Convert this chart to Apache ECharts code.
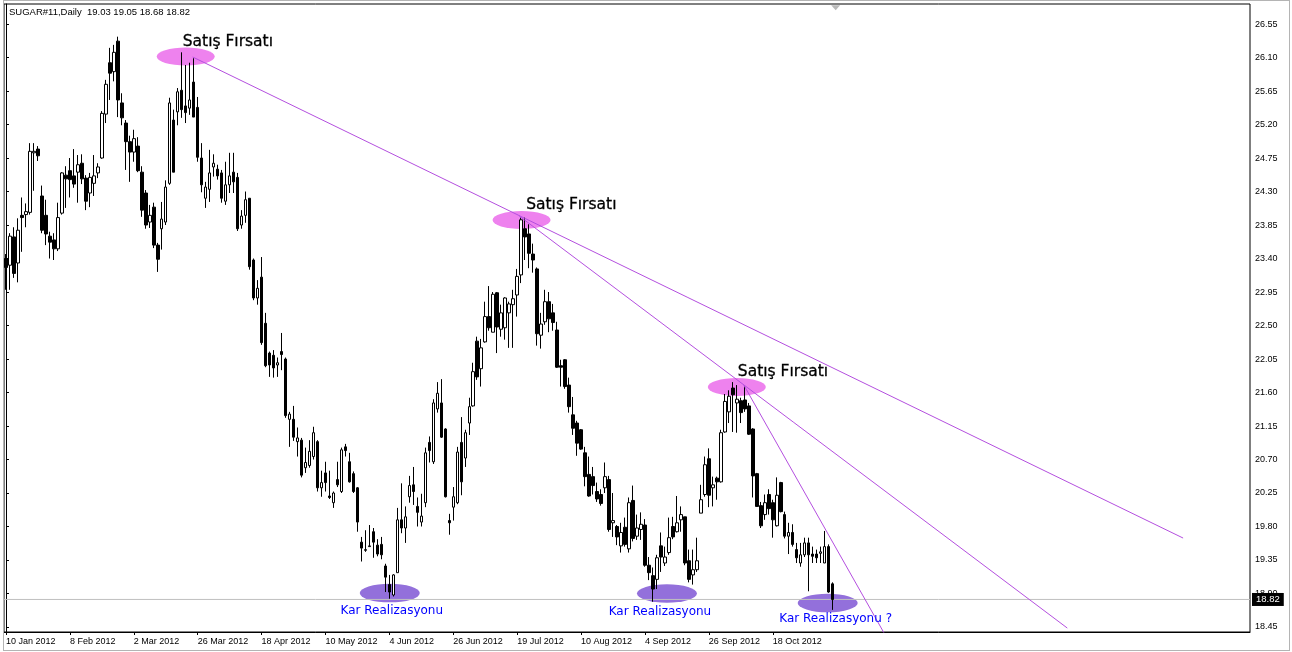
<!DOCTYPE html>
<html>
<head>
<meta charset="utf-8">
<script src="https://cdn.jsdelivr.net/npm/echarts@6/dist/echarts.min.js"></script>
<style>
html,body{margin:0;padding:0;background:#fff;}
#c{position:absolute;left:0;top:0;width:1292px;height:652px;}
#frame{position:absolute;left:3px;top:0;width:1285px;height:649px;border:1px solid #b4b4b4;pointer-events:none;}
</style>
</head>
<body>
<div id="c"></div>
<div id="frame"></div>
<script>
// ---------------- DATA ----------------
const symbolName = 'SUGAR#11,Daily';
const opens = [23.40,23.31,23.69,23.34,23.98,23.99,24.02,24.82,24.87,24.24,23.98,23.70,23.65,23.53,24.01,24.52,24.58,24.51,24.56,24.68,
24.48,24.28,24.41,24.55,24.75,25.34,26.03,25.91,26.32,25.49,25.22,24.97,24.83,24.91,24.56,24.28,23.89,24.09,23.58,23.80,
23.89,24.41,25.26,25.37,25.66,25.45,25.42,25.77,25.43,24.75,24.21,24.33,24.63,24.60,24.55,24.17,24.39,24.56,24.49,23.85,
23.98,24.21,23.38,22.87,23.15,22.53,22.13,22.10,21.97,22.15,22.05,21.24,21.24,20.94,20.96,20.59,20.62,20.74,20.94,20.32,
20.52,20.21,20.12,20.43,20.27,20.87,20.67,20.51,20.32,19.59,19.48,19.53,19.73,19.55,19.56,19.27,19.02,18.88,19.18,19.89,
19.78,20.20,20.36,20.07,19.86,20.12,20.93,20.67,21.38,21.46,21.11,19.88,20.06,20.12,20.93,20.72,21.19,21.42,22.29,21.92,
22.28,22.62,22.41,22.94,22.45,22.47,22.67,22.78,22.91,23.18,23.80,23.73,23.46,23.26,22.37,22.55,22.82,22.67,22.44,21.96,
22.04,21.70,21.30,21.19,21.10,20.79,20.50,20.47,20.27,20.23,20.32,20.43,19.85,19.80,19.54,19.79,19.50,20.15,19.67,19.76,
19.82,19.28,19.14,19.09,19.54,19.31,19.45,19.80,19.73,19.89,19.93,19.34,19.15,19.22,19.98,20.23,20.71,20.32,20.45,20.40,
21.07,21.34,21.66,21.46,21.49,21.50,21.42,21.11,20.51,20.08,19.96,20.23,20.12,19.81,20.39,19.96,19.67,19.72,19.49,19.31,
19.42,19.58,19.43,19.43,19.44,19.31,19.53,19.03];
const highs = [23.46,23.74,23.82,23.94,24.22,24.14,24.95,24.95,24.91,24.38,24.19,23.76,23.74,24.15,24.56,24.64,24.75,24.87,24.79,24.80,
24.52,24.55,24.79,24.68,25.38,25.80,26.23,26.27,26.38,25.62,25.26,25.05,25.13,25.03,24.64,24.32,24.12,24.15,23.61,24.16,
24.45,25.56,25.40,25.69,26.17,26.00,26.03,26.09,25.57,24.95,24.43,24.86,24.80,24.66,24.59,24.70,24.82,24.82,24.55,24.05,
24.30,24.21,23.40,23.11,23.42,22.67,22.15,22.17,22.07,22.40,22.07,21.34,21.42,21.13,20.99,20.86,20.96,21.14,20.96,20.55,
20.67,20.55,20.27,20.67,20.86,20.91,20.79,20.54,20.33,19.66,19.75,19.82,19.78,19.63,19.66,19.30,19.15,19.16,20.05,20.38,
20.07,20.48,20.60,20.19,20.24,20.86,21.01,21.51,21.74,21.78,21.12,19.97,20.33,20.87,21.27,21.10,21.53,22.00,22.35,22.32,
22.82,23.03,22.95,22.95,22.78,22.88,22.82,22.98,23.26,23.95,23.95,23.86,23.60,23.28,22.67,22.98,22.95,22.79,22.55,22.04,
22.05,21.80,21.54,21.22,21.11,20.87,20.74,20.60,20.39,20.30,20.66,20.48,20.25,19.82,19.85,19.92,20.19,20.35,19.96,19.99,
19.90,19.39,19.25,19.42,19.72,19.53,19.92,19.93,20.21,20.07,19.93,19.49,19.49,19.65,20.36,20.74,20.85,20.47,20.47,21.10,
21.58,21.63,21.74,21.70,21.53,21.69,21.46,21.12,20.52,20.13,20.23,20.30,20.16,20.46,20.40,20.00,19.85,19.83,19.58,19.58,
19.65,19.65,19.53,19.49,19.53,19.74,19.56,19.05];
const lows = [22.98,22.98,23.14,23.08,23.49,23.82,23.99,24.31,24.71,23.74,23.58,23.40,23.38,23.50,23.99,24.08,24.22,24.35,24.15,24.40,
24.05,24.09,24.24,24.48,24.74,25.22,25.53,25.78,25.30,25.19,24.59,24.43,24.70,24.56,23.96,23.80,23.81,23.54,23.22,23.52,
23.85,24.39,24.56,25.19,25.29,25.22,25.33,25.30,24.70,24.29,24.08,24.16,24.50,24.46,24.15,24.12,24.28,24.28,23.77,23.80,
23.88,23.25,22.84,22.78,22.24,21.94,21.81,21.80,21.81,21.90,21.26,20.87,20.95,20.74,20.46,20.52,20.59,20.70,20.27,20.20,
20.27,20.17,20.05,20.33,20.25,20.74,20.39,20.25,19.73,19.33,19.46,19.53,19.38,19.40,19.36,18.92,18.83,18.86,19.18,19.71,
19.58,20.12,20.09,19.80,19.80,20.06,20.66,20.64,21.33,20.99,20.19,19.69,19.88,20.10,20.22,20.60,21.03,21.41,21.77,21.68,
22.27,22.43,22.41,22.13,22.35,22.31,22.20,22.20,22.62,23.07,23.38,23.27,23.21,22.23,22.19,22.51,22.41,22.43,21.93,21.68,
21.65,21.33,21.03,20.75,20.83,20.34,20.20,20.23,20.13,20.08,20.25,19.73,19.66,19.55,19.45,19.53,19.45,19.60,19.62,19.62,
19.26,19.08,18.79,18.96,19.19,19.27,19.42,19.63,19.72,19.73,19.28,19.05,19.02,19.19,19.98,20.20,20.06,20.07,20.16,20.39,
21.06,21.19,21.07,21.06,21.19,21.34,21.03,20.19,20.07,19.78,19.89,19.96,19.65,19.80,19.99,19.64,19.43,19.53,19.31,19.26,
19.39,18.93,19.31,19.31,19.31,19.31,18.91,18.68];
const closes = [23.28,23.70,23.20,23.78,23.95,24.03,24.84,24.84,24.78,23.78,23.73,23.62,23.53,23.95,24.55,24.47,24.46,24.40,24.66,24.47,
24.17,24.49,24.51,24.63,25.35,25.74,25.89,26.17,25.53,25.29,24.97,24.83,25.01,24.58,24.05,23.85,23.98,23.58,23.39,23.93,
24.36,25.49,24.56,25.64,25.40,25.36,25.53,25.30,24.76,24.39,24.36,24.55,24.68,24.51,24.21,24.39,24.51,24.43,23.80,23.97,
24.19,23.29,22.87,23.00,22.27,21.96,21.97,21.93,22.00,22.11,21.29,21.31,21.00,20.99,20.49,20.66,20.81,21.06,20.32,20.39,
20.39,20.19,20.25,20.36,20.83,20.82,20.40,20.27,19.86,19.51,19.49,19.54,19.59,19.43,19.42,19.12,18.92,19.15,19.89,19.78,
19.93,20.35,20.27,19.99,19.94,20.79,20.82,21.46,21.59,21.00,20.20,19.85,20.20,20.80,20.40,21.06,21.41,21.88,21.81,22.20,
22.62,22.47,22.92,22.48,22.67,22.87,22.79,22.86,23.16,23.92,23.69,23.47,23.38,22.39,22.52,22.82,22.59,22.54,21.94,21.94,
21.68,21.41,21.12,20.92,20.84,20.47,20.21,20.35,20.17,20.11,20.47,19.76,19.88,19.66,19.72,19.56,20.12,19.64,19.78,19.83,
19.28,19.18,18.96,19.38,19.39,19.39,19.65,19.66,19.85,19.96,19.31,19.09,19.22,19.34,20.16,20.63,20.22,20.36,20.40,21.06,
21.48,21.55,21.57,21.51,21.33,21.38,21.04,20.48,20.07,19.81,20.12,20.04,19.89,20.22,20.00,19.67,19.72,19.56,19.38,19.42,
19.58,19.42,19.40,19.38,19.46,19.53,18.92,18.82];

// x-axis tick labels (bar index -> label)
const tickBars = [0,16,32,48,64,80,96,112,128,144,160,176,192];
const tickLabels = ['10 Jan 2012','8 Feb 2012','2 Mar 2012','26 Mar 2012','18 Apr 2012','10 May 2012','4 Jun 2012',
  '26 Jun 2012','19 Jul 2012','10 Aug 2012','4 Sep 2012','26 Sep 2012','18 Oct 2012'];
// y-axis tick labels
const priceTicks = [18.45,18.90,19.35,19.80,20.25,20.70,21.15,21.60,22.05,22.50,22.95,23.40,23.85,24.30,24.75,25.20,25.65,26.10,26.55];

// trend lines: [barIndex, price] endpoints
const trendLine1 = [[46.75, 26.107], [294.75, 19.645]];
const trendLine2 = [[128.5, 23.971], [265.75, 18.436]];
const trendLine3 = [[184.75, 21.70], [220.6, 18.30]];

// ellipse annotations [barIndex, price, kind]  kind 0 = sell (pink), 1 = profit (purple)
const ellipseNotes = [[45, 26.113, 0], [129.1, 23.917, 0], [183, 21.674, 0],
                      [96.1, 18.906, 1], [165.5, 18.90, 1], [205.75, 18.772, 1]];
// text annotations [barIndex, price, textIndex]
const noteTexts = ['Satış Fırsatı', 'Kar Realizasyonu', 'Kar Realizasyonu ?'];
const textNotes = [[44.25, 26.308, 0], [130.25, 24.125, 0], [183.25, 21.875, 0],
                   [96.6, 18.665, 1], [163.75, 18.652, 1], [207.75, 18.56, 2]];

// ---------------- CHART ----------------
const barCount = opens.length;
const slotCount = 312;
const categories = Array.from({length: slotCount}, (_, i) => String(i));
const candleData = opens.map((o, i) => [o, closes[i], lows[i], highs[i]]);
const last = barCount - 1;
const fmt = v => v.toFixed(2);
const titleText = symbolName + '  ' + fmt(opens[last]) + ' ' + fmt(highs[last]) + ' ' + fmt(lows[last]) + ' ' + fmt(closes[last]);

const axisFont = 'Liberation Sans';
const isTick = i => tickBars.indexOf(i) >= 0;

const chart = echarts.init(document.getElementById('c'), null, {renderer: 'canvas'});
const option = {
  animation: false,
  backgroundColor: '#fff',
  title: {
    text: titleText, left: 9, top: 7, padding: 0,
    textStyle: {fontSize: 9.5, fontFamily: axisFont, fontWeight: 'normal', color: '#000'}
  },
  grid: {left: 4, top: 4, right: 42, bottom: 20, show: true, borderColor: '#000', borderWidth: 1, backgroundColor: '#fff'},
  xAxis: [
    {
      type: 'category', data: categories, boundaryGap: true,
      axisLine: {show: true, lineStyle: {color: '#000', width: 1}},
      axisTick: {show: true, alignWithLabel: true, length: 3, interval: isTick, lineStyle: {color: '#000'}},
      axisLabel: {
        show: true, interval: isTick, align: 'left', margin: 5, color: '#000',
        fontFamily: axisFont, fontSize: 9,
        formatter: (v, i) => { const k = tickBars.indexOf(Number(v)); return k >= 0 ? tickLabels[k] : ''; }
      },
      splitLine: {show: false}
    },
    {type: 'value', min: -0.5, max: slotCount - 0.5, show: false}
  ],
  yAxis: {
    type: 'value', position: 'right', min: 18.383, max: 26.819,
    axisLine: {show: true, lineStyle: {color: '#000'}},
    axisTick: {show: true, length: 3, lineStyle: {color: '#000'}, customValues: priceTicks},
    axisLabel: {show: true, customValues: priceTicks, formatter: v => fmt(v), margin: 5, color: '#000', fontFamily: axisFont, fontSize: 9},
    splitLine: {show: false}
  },
  series: [
    {
      type: 'custom', name: 'ellipses', xAxisIndex: 1, yAxisIndex: 0, z: 1, silent: true,
      data: ellipseNotes,
      renderItem: (params, api) => {
        const c = api.coord([api.value(0), api.value(1)]);
        const kind = api.value(2);
        const rx = kind === 0 ? 29 : 30;
        const ry = kind === 0 ? 9 : 9.3;
        return {
          type: 'circle', x: c[0], y: c[1], scaleX: rx / ry, scaleY: 1,
          shape: {cx: 0, cy: 0, r: ry},
          style: {fill: kind === 0 ? '#EE82EE' : '#9370DB'}
        };
      }
    },
    {
      type: 'line', name: 'lastPrice', xAxisIndex: 1, yAxisIndex: 0, z: 1.5, silent: true,
      data: [[-0.5, closes[last]], [slotCount - 0.5, closes[last]]],
      symbol: 'none', lineStyle: {color: '#c0c0c0', width: 1},
      endLabel: {
        show: true, formatter: () => fmt(closes[last]), distance: 2,
        backgroundColor: '#000', color: '#fff', padding: [2, 4, 1, 4],
        fontFamily: axisFont, fontSize: 9.5
      }
    },
    {
      type: 'candlestick', name: 'SUGAR', xAxisIndex: 0, yAxisIndex: 0, z: 3,
      data: candleData, barWidth: 3,
      itemStyle: {color: '#fff', color0: '#000', borderColor: '#000', borderColor0: '#000', borderColorDoji: '#000', borderWidth: 1}
    },
    {type: 'line', xAxisIndex: 1, yAxisIndex: 0, z: 4, data: trendLine1, symbol: 'none', silent: true, lineStyle: {color: '#B44FDF', width: 1}},
    {type: 'line', xAxisIndex: 1, yAxisIndex: 0, z: 4, data: trendLine2, symbol: 'none', silent: true, lineStyle: {color: '#B44FDF', width: 1}},
    {type: 'line', xAxisIndex: 1, yAxisIndex: 0, z: 4, data: trendLine3, symbol: 'none', silent: true, lineStyle: {color: '#B44FDF', width: 1}},
    {
      type: 'custom', name: 'notes', xAxisIndex: 1, yAxisIndex: 0, z: 5, silent: true,
      data: textNotes,
      renderItem: (params, api) => {
        const c = api.coord([api.value(0), api.value(1)]);
        const k = api.value(2);
        const sell = k === 0;
        return {
          type: 'text', x: c[0], y: c[1],
          style: {
            text: noteTexts[k],
            fill: sell ? '#000' : '#0000FF',
            font: sell ? '15.5px "DejaVu Sans"' : '12px "DejaVu Sans"',
            stroke: sell ? '#000' : null, lineWidth: sell ? 0.3 : 0,
            align: sell ? 'left' : 'center', verticalAlign: 'middle',
            textAlign: sell ? 'left' : 'center', textVerticalAlign: 'middle'
          }
        };
      }
    },
    {
      type: 'scatter', xAxisIndex: 1, yAxisIndex: 0, z: 5, silent: true,
      data: [[207.75, 26.77]], symbol: 'triangle', symbolRotate: 180, symbolSize: [9, 5],
      itemStyle: {color: '#a8a8a8'}
    }
  ]
};
chart.setOption(option);
</script>
</body>
</html>
